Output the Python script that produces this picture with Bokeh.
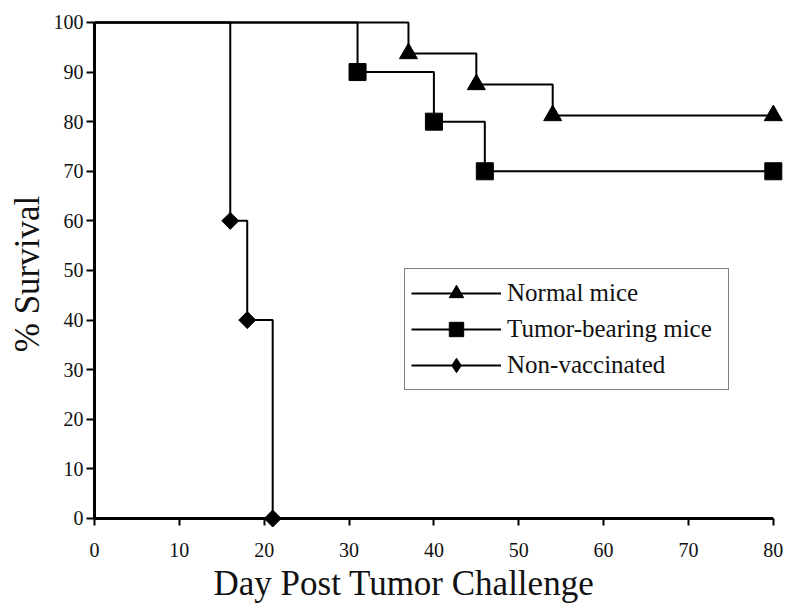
from bokeh.plotting import figure
from bokeh.models import FixedTicker, Legend, LegendItem, Range1d, Title
from bokeh.embed import file_html
from bokeh.resources import INLINE
import numpy as np

# ---- data ----
normal_days = [0, 37, 45, 54, 80]
normal_surv = [100, 93.75, 87.5, 81.25, 81.25]
tumor_days = [0, 31, 40, 46, 80]
tumor_surv = [100, 90, 80, 70, 70]
nonvac_days = [0, 16, 18, 21]
nonvac_surv = [100, 60, 40, 0]
series_names = ["Normal mice", "Tumor-bearing mice", "Non-vaccinated"]
x_ticks = [0, 10, 20, 30, 40, 50, 60, 70, 80]
y_ticks = [0, 10, 20, 30, 40, 50, 60, 70, 80, 90, 100]
x_title = "Day Post Tumor Challenge"
y_title = "% Survival"

FONT = "Liberation Serif"
INK = "#111111"

p = figure(frame_width=689, frame_height=513,
           x_range=Range1d(0, 81.2), y_range=Range1d(-2.42, 101),
           output_backend="svg", toolbar_location=None,
           min_border_left=94, min_border_right=9, min_border_top=17, min_border_bottom=70,
           outline_line_color=None, background_fill_color="white", border_fill_color="white")
p.grid.visible = False

# x axis: ticks reach up to the y = 0 baseline, own line drawn as a glyph
xa = p.xaxis[0]
xa.ticker = FixedTicker(ticks=x_ticks)
xa.axis_line_color = None
xa.major_tick_in = 12
xa.major_tick_out = -5
xa.minor_tick_in = 0
xa.minor_tick_out = -5
xa.minor_tick_line_color = None
xa.major_tick_line_width = 2
xa.major_tick_line_color = "black"
xa.major_label_text_font = FONT
xa.major_label_text_font_size = "20px"
xa.major_label_text_color = INK
xa.major_label_standoff = 12

ya = p.yaxis[0]
ya.bounds = (y_ticks[0], y_ticks[-1])
ya.ticker = FixedTicker(ticks=y_ticks)
ya.major_tick_out = 8
ya.major_tick_in = 0
ya.minor_tick_line_color = None
ya.axis_line_width = 3
ya.axis_line_color = "black"
ya.major_tick_line_width = 2
ya.major_label_text_font = FONT
ya.major_label_text_font_size = "20px"
ya.major_label_text_color = INK
ya.major_label_standoff = 3
ya.axis_label = y_title
ya.axis_label_text_font = FONT
ya.axis_label_text_font_size = "35px"
ya.axis_label_text_font_style = "normal"
ya.axis_label_text_color = INK
ya.axis_label_standoff = 4

# x axis baseline at y = 0 spanning the tick range
p.line(x=[x_ticks[0], x_ticks[-1]], y=[y_ticks[0], y_ticks[0]], line_color="black", line_width=3)

# x axis title
p.add_layout(Title(text=x_title, align="left", offset=119, text_font=FONT,
                   text_font_size="35px", text_font_style="normal",
                   text_color=INK, standoff=4), "below")

LW = 2
l1 = p.step(normal_days, normal_surv, mode="after", line_color="black", line_width=LW)
s1 = p.scatter(normal_days[1:], normal_surv[1:], marker="triangle", size=18, color="black")
l2 = p.step(tumor_days, tumor_surv, mode="after", line_color="black", line_width=LW)
s2 = p.scatter(tumor_days[1:], tumor_surv[1:], marker="square", size=17, color="black")
l3 = p.step(nonvac_days, nonvac_surv, mode="after", line_color="black", line_width=LW)
# diamond key (legend markers are drawn unrotated); hidden under the rotated squares
s3_key = p.scatter(nonvac_days[1:], nonvac_surv[1:], marker="diamond", size=16, color="black")
s3 = p.scatter(nonvac_days[1:], nonvac_surv[1:], marker="square", size=12,
               angle=np.pi / 4, color="black")

legend = Legend(items=[LegendItem(label=series_names[0], renderers=[l1, s1]),
                       LegendItem(label=series_names[1], renderers=[l2, s2]),
                       LegendItem(label=series_names[2], renderers=[l3, s3_key])],
                location=(310, 140), orientation="vertical",
                border_line_color="black", border_line_width=1.5,
                background_fill_color="white", background_fill_alpha=1,
                padding=6, spacing=0, margin=0,
                glyph_width=90, glyph_height=36, label_height=36, label_width=215,
                label_standoff=6, label_text_font=FONT, label_text_font_size="25px",
                label_text_color=INK)
p.add_layout(legend)

open("out.html", "w").write(file_html(p, INLINE))
